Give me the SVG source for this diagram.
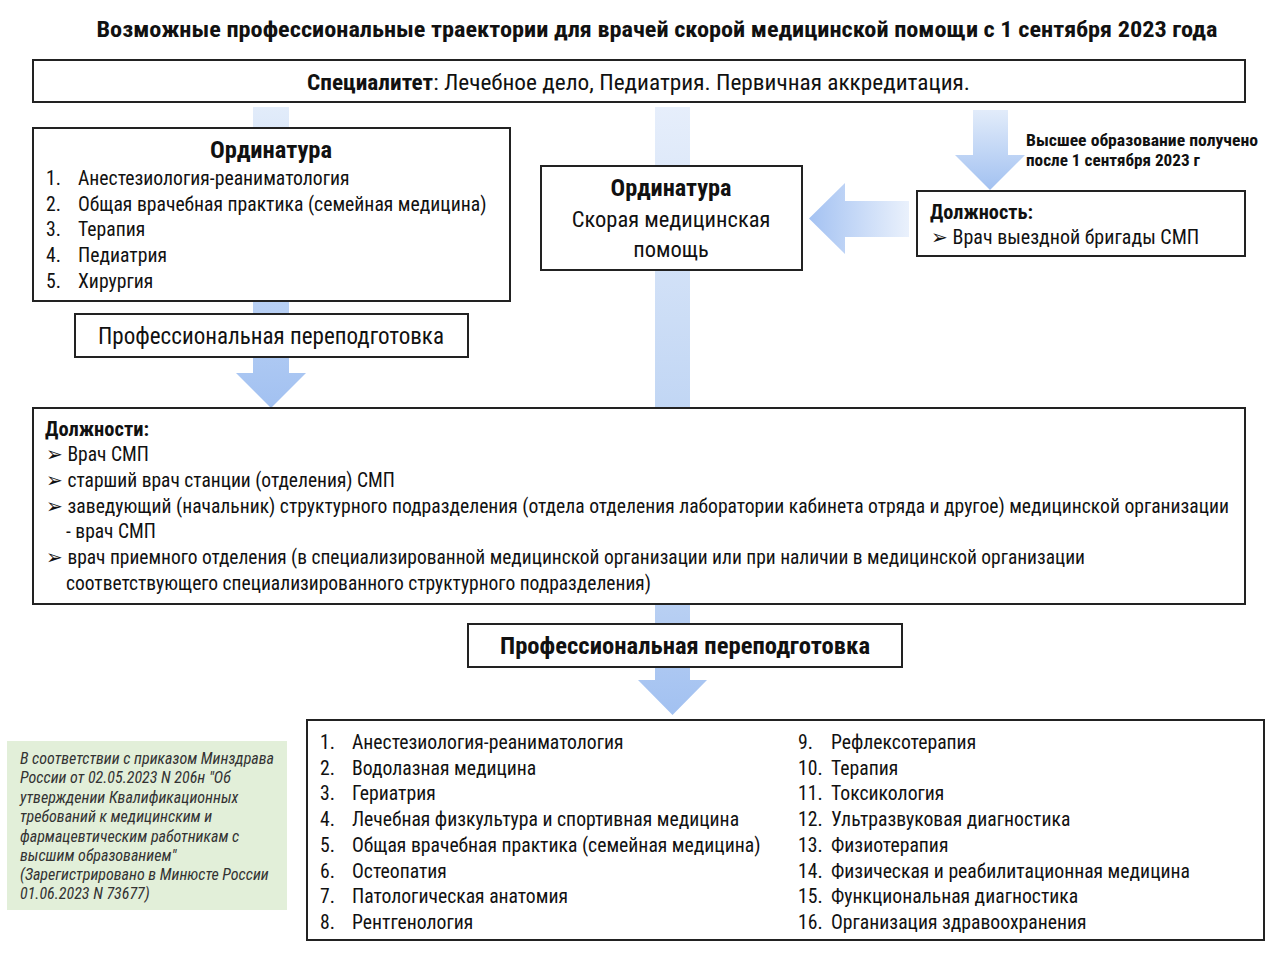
<svg xmlns="http://www.w3.org/2000/svg" width="1280" height="962" viewBox="0 0 1280 962">
<defs>
<style>
text{font-family:"Liberation Sans Narrow","Arial Narrow","Roboto Condensed","Liberation Sans",sans-serif;fill:#111;}
.box{fill:#fff;stroke:#222;stroke-width:2;}
.b{font-weight:bold;}
.c{text-anchor:middle;}
.s{font-size:16px;font-weight:bold;}
.n{font-size:16px;font-style:italic;fill:#333;}
.l{font-size:19.7px;}
.p{font-size:19.5px;}
</style>
<linearGradient id="gv" x1="0" y1="0" x2="0" y2="1">
<stop offset="0" stop-color="#e2ecfa"/>
<stop offset="1" stop-color="#a2c1f1"/>
</linearGradient>
<linearGradient id="gm" x1="0" y1="0" x2="0" y2="1">
<stop offset="0" stop-color="#e6eefb"/>
<stop offset="1" stop-color="#c1d6f4"/>
</linearGradient>
<linearGradient id="gb" x1="0" y1="0" x2="0" y2="1">
<stop offset="0" stop-color="#b9d0f3"/>
<stop offset="1" stop-color="#a2c1f1"/>
</linearGradient>
<linearGradient id="gh" x1="1" y1="0" x2="0" y2="0">
<stop offset="0" stop-color="#eaf1fc"/>
<stop offset="1" stop-color="#a4c2f2"/>
</linearGradient>
</defs>
<rect width="1280" height="962" fill="#fff"/>

<g id="connectors">
<path d="M253 107 H289 V373 H306 L271 408 L236 373 H253 Z" fill="url(#gv)"/>
<rect x="655" y="107" width="35" height="301" fill="url(#gm)"/>
<path d="M655 604 H690 V680 H707 L672.5 715 L638 680 H655 Z" fill="url(#gb)"/>
<path d="M973 110 H1008 V155 H1025 L990 190 L955 155 H973 Z" fill="url(#gv)"/>
<path d="M909 201 V237 H845 V254 L809 218.5 L845 183 V201 Z" fill="url(#gh)"/>
</g>

<text class="b c" x="657" y="37" font-size="22.5" textLength="1121" lengthAdjust="spacingAndGlyphs">Возможные профессиональные траектории для врачей скорой медицинской помощи с 1 сентября 2023 года</text>

<g id="specialitet">
<rect class="box" x="33" y="60" width="1212" height="42"/>
<text x="307" y="90" font-size="22.5" textLength="663" lengthAdjust="spacingAndGlyphs"><tspan class="b">Специалитет</tspan>: Лечебное дело, Педиатрия. Первичная аккредитация.</text>
</g>

<g id="ordinatura-left">
<rect class="box" x="33" y="128" width="477" height="173"/>
<text class="b c" x="271" y="158" font-size="23" textLength="122" lengthAdjust="spacingAndGlyphs">Ординатура</text>
<text x="46" y="185" class="l">1.</text><text x="78" y="185" class="l">Анестезиология-реаниматология</text>
<text x="46" y="211" class="l">2.</text><text x="78" y="211" class="l">Общая врачебная практика (семейная медицина)</text>
<text x="46" y="236" class="l">3.</text><text x="78" y="236" class="l">Терапия</text>
<text x="46" y="262" class="l">4.</text><text x="78" y="262" class="l">Педиатрия</text>
<text x="46" y="288" class="l">5.</text><text x="78" y="288" class="l">Хирургия</text>
</g>

<g id="retraining-left">
<rect class="box" x="75" y="314" width="393" height="43"/>
<text class="c" x="271" y="344" font-size="23" textLength="346" lengthAdjust="spacingAndGlyphs">Профессиональная переподготовка</text>
</g>

<g id="ordinatura-smp">
<rect class="box" x="541" y="166" width="261" height="104"/>
<text class="b c" x="671" y="196" font-size="23" textLength="121" lengthAdjust="spacingAndGlyphs">Ординатура</text>
<text class="c" x="671" y="227" font-size="22.5">Скорая медицинская</text>
<text class="c" x="671" y="257" font-size="22.5">помощь</text>
</g>

<text class="s" x="1026" y="146" textLength="232" lengthAdjust="spacingAndGlyphs">Высшее образование получено</text>
<text class="s" x="1026" y="166" textLength="174" lengthAdjust="spacingAndGlyphs">после 1 сентября 2023 г</text>

<g id="position-right">
<rect class="box" x="917" y="191" width="328" height="65"/>
<text class="b" x="930" y="219" font-size="19.5" textLength="103" lengthAdjust="spacingAndGlyphs">Должность:</text>
<text x="931" y="244" font-size="20">➢ Врач выездной бригады СМП</text>
</g>

<g id="positions">
<rect class="box" x="33" y="408" width="1212" height="196"/>
<text class="b" x="45" y="436" font-size="19.5" textLength="104" lengthAdjust="spacingAndGlyphs">Должности:</text>
<text x="46" y="461" class="p">➢ Врач СМП</text>
<text x="46" y="487" class="p">➢ старший врач станции (отделения) СМП</text>
<text x="46" y="513" class="p" textLength="1183" lengthAdjust="spacingAndGlyphs">➢ заведующий (начальник) структурного подразделения (отдела отделения лаборатории кабинета отряда и другое) медицинской организации</text>
<text x="66" y="538" class="p">- врач СМП</text>
<text x="46" y="564" class="p" textLength="1039" lengthAdjust="spacingAndGlyphs">➢ врач приемного отделения (в специализированной медицинской организации или при наличии в медицинской организации</text>
<text x="66" y="590" class="p" textLength="585" lengthAdjust="spacingAndGlyphs">соответствующего специализированного структурного подразделения)</text>
</g>

<g id="retraining-main">
<rect class="box" x="468" y="624" width="434" height="43"/>
<text class="b c" x="685" y="654" font-size="23.5" textLength="370" lengthAdjust="spacingAndGlyphs">Профессиональная переподготовка</text>
</g>

<g id="specialties">
<rect class="box" x="307" y="720" width="957" height="220"/>
<text x="320" y="749" class="l">1.</text><text x="352" y="749" class="l">Анестезиология-реаниматология</text>
<text x="320" y="775" class="l">2.</text><text x="352" y="775" class="l">Водолазная медицина</text>
<text x="320" y="800" class="l">3.</text><text x="352" y="800" class="l">Гериатрия</text>
<text x="320" y="826" class="l">4.</text><text x="352" y="826" class="l">Лечебная физкультура и спортивная медицина</text>
<text x="320" y="852" class="l">5.</text><text x="352" y="852" class="l">Общая врачебная практика (семейная медицина)</text>
<text x="320" y="878" class="l">6.</text><text x="352" y="878" class="l">Остеопатия</text>
<text x="320" y="903" class="l">7.</text><text x="352" y="903" class="l">Патологическая анатомия</text>
<text x="320" y="929" class="l">8.</text><text x="352" y="929" class="l">Рентгенология</text>
<text x="798" y="749" class="l">9.</text><text x="831" y="749" class="l">Рефлексотерапия</text>
<text x="798" y="775" class="l">10.</text><text x="831" y="775" class="l">Терапия</text>
<text x="798" y="800" class="l">11.</text><text x="831" y="800" class="l">Токсикология</text>
<text x="798" y="826" class="l">12.</text><text x="831" y="826" class="l">Ультразвуковая диагностика</text>
<text x="798" y="852" class="l">13.</text><text x="831" y="852" class="l">Физиотерапия</text>
<text x="798" y="878" class="l">14.</text><text x="831" y="878" class="l">Физическая и реабилитационная медицина</text>
<text x="798" y="903" class="l">15.</text><text x="831" y="903" class="l">Функциональная диагностика</text>
<text x="798" y="929" class="l">16.</text><text x="831" y="929" class="l">Организация здравоохранения</text>
</g>

<g id="note">
<rect x="7" y="741" width="280" height="169" fill="#e2efd9"/>
<text class="n" x="20" y="764">В соответствии с приказом Минздрава</text>
<text class="n" x="20" y="783">России от 02.05.2023 N 206н "Об</text>
<text class="n" x="20" y="803">утверждении Квалификационных</text>
<text class="n" x="20" y="822">требований к медицинским и</text>
<text class="n" x="20" y="842">фармацевтическим работникам с</text>
<text class="n" x="20" y="861">высшим образованием"</text>
<text class="n" x="20" y="880">(Зарегистрировано в Минюсте России</text>
<text class="n" x="20" y="899">01.06.2023 N 73677)</text>
</g>
</svg>
